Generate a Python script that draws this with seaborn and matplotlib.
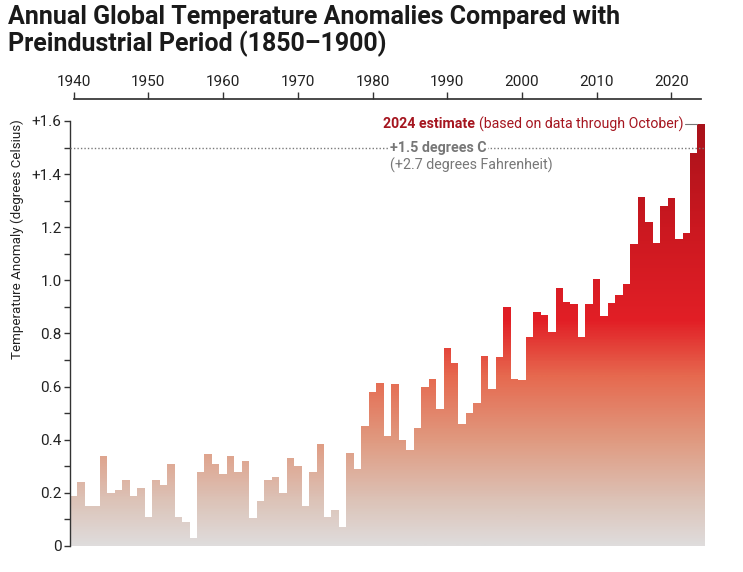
import numpy as np
import pandas as pd
import matplotlib
matplotlib.use('Agg')
import matplotlib.pyplot as plt
import seaborn as sns
from matplotlib.colors import LinearSegmentedColormap
from matplotlib.path import Path
from matplotlib.patches import PathPatch

sns.set_theme(style="white")
plt.rcParams['font.family'] = ['Roboto', 'DejaVu Sans']

# Data: annual anomaly vs 1850-1900 (deg C)
years = list(range(1940, 2025))
anomaly = [
    0.19, 0.24, 0.15, 0.15, 0.34, 0.20, 0.21, 0.25, 0.19, 0.22,   # 1940s
    0.11, 0.25, 0.23, 0.31, 0.11, 0.09, 0.03, 0.28, 0.345, 0.31,  # 1950s
    0.27, 0.34, 0.28, 0.32, 0.105, 0.17, 0.25, 0.26, 0.20, 0.33,  # 1960s
    0.30, 0.15, 0.28, 0.385, 0.11, 0.135, 0.07, 0.35, 0.29, 0.45, # 1970s
    0.58, 0.615, 0.415, 0.61, 0.40, 0.36, 0.445, 0.60, 0.63, 0.515,  # 1980s
    0.745, 0.69, 0.46, 0.50, 0.54, 0.715, 0.59, 0.71, 0.90, 0.63,    # 1990s
    0.625, 0.785, 0.88, 0.87, 0.805, 0.97, 0.92, 0.91, 0.785, 0.91,  # 2000s
    1.005, 0.865, 0.915, 0.945, 0.985, 1.135, 1.315, 1.22, 1.14, 1.28,  # 2010s
    1.31, 1.155, 1.18, 1.48, 1.59,                                      # 2020s
]
decade_ticks = list(range(1940, 2030, 10))
ytick_vals = [0, 0.2, 0.4, 0.6, 0.8, 1.0, 1.2, 1.4, 1.6]
ytick_labels = ['0', '0.2', '0.4', '0.6', '0.8', '1.0', '1.2', '+1.4', '+1.6']
threshold = 1.5

df = pd.DataFrame({'Year': years, 'Anomaly': anomaly})

fig = plt.figure(figsize=(7.43, 5.72), dpi=100)
ax = fig.add_axes([0.0942, 0.0455, 0.8546, 0.743])

sns.barplot(data=df, x='Year', y='Anomaly', native_scale=True, width=1,
            color='white', linewidth=0, ax=ax)

x0, x1 = years[0] - 0.5, years[-1] + 0.5
ax.set_xlim(x0, x1)
ax.set_ylim(0, 1.6)

# ── Gradient fill clipped to the bars
paths = [p.get_path().transformed(p.get_patch_transform()) for p in ax.patches]
clip = PathPatch(Path.make_compound_path(*paths), transform=ax.transData,
                 facecolor='none', edgecolor='none')
ax.add_patch(clip)
cmap = LinearSegmentedColormap.from_list('heat', [
    (0.00, '#dfdcdc'),
    (0.10, '#dcc4b9'),
    (0.25, '#e0997f'),
    (0.40, '#e6694f'),
    (0.53, '#e21f26'),
    (0.75, '#cb1820'),
    (1.00, '#a8121a'),
])
grad = np.linspace(0, 1, 400).reshape(-1, 1)
im = ax.imshow(grad, cmap=cmap, origin='lower', aspect='auto',
               extent=[x0, x1, 0, 1.6], zorder=2)
im.set_clip_path(clip)
for p in ax.patches:
    if p is not clip:
        p.set_visible(False)

# ── Axes styling
for s in ['top', 'right', 'bottom']:
    ax.spines[s].set_visible(False)
ax.spines['left'].set_bounds(0, 1.6)
ax.spines['left'].set_color('#333333')
ax.spines['left'].set_linewidth(1)
ax.set_yticks(ytick_vals)
ax.set_yticklabels(ytick_labels)
ax.set_yticks(np.arange(0.1, 1.6, 0.2), minor=True)
ax.tick_params(axis='y', which='both', left=True, direction='out', length=4,
               width=1, color='#333333', labelsize=11, labelcolor='#222222', pad=2)
ax.set_xticks([])
ax.set_xlabel('')
ax.set_ylabel('')

secax = ax.secondary_xaxis(1 + 22 / 425)
secax.set_xticks(decade_ticks)
secax.spines['top'].set_bounds(1940, 2024)
secax.spines['top'].set_color('#333333')
secax.tick_params(axis='x', direction='out', length=5, width=1, color='#333333',
                  labelsize=11, labelcolor='#222222', pad=2)

# ── Threshold line and annotations
ax.axhline(threshold, color='#7a7a7a', lw=1, ls=(0, (1, 1.5)), zorder=3)
ax.text(1982.3, threshold, '+1.5 degrees C', fontsize=10.3, fontweight='bold',
        color='#777777', ha='left', va='center', zorder=4,
        bbox=dict(facecolor='white', edgecolor='none', pad=1.5))
ax.text(1982.3, 1.433, '(+2.7 degrees Fahrenheit)', fontsize=10.3,
        color='#777777', ha='left', va='center', zorder=4)

t_reg = ax.text(2021.6, 1.587, '(based on data through October)', fontsize=10.2,
                color='#a5151f', ha='right', va='center', zorder=4)
ax.annotate('2024 estimate', xy=(0, 0.5), xycoords=t_reg, xytext=(-3, 0),
            textcoords='offset points', fontsize=10.2, fontweight='bold',
            color='#a5151f', ha='right', va='center', zorder=4)
ax.plot([2021.8, 2023.5], [1.587, 1.587], color='#777777', lw=0.8, zorder=4)

fig.text(17 / 743, 1 - 239 / 572, 'Temperature Anomaly (degrees Celsius)',
         rotation=90, ha='center', va='center', fontsize=9.6, color='#222222')

fig.text(8 / 743, 1 - 5 / 572,
         'Annual Global Temperature Anomalies Compared with\nPreindustrial Period (1850\u20131900)',
         ha='left', va='top', fontsize=18, fontweight='bold', color='#1a1a1a',
         linespacing=1.1)

fig.savefig('out.png', dpi=100)
